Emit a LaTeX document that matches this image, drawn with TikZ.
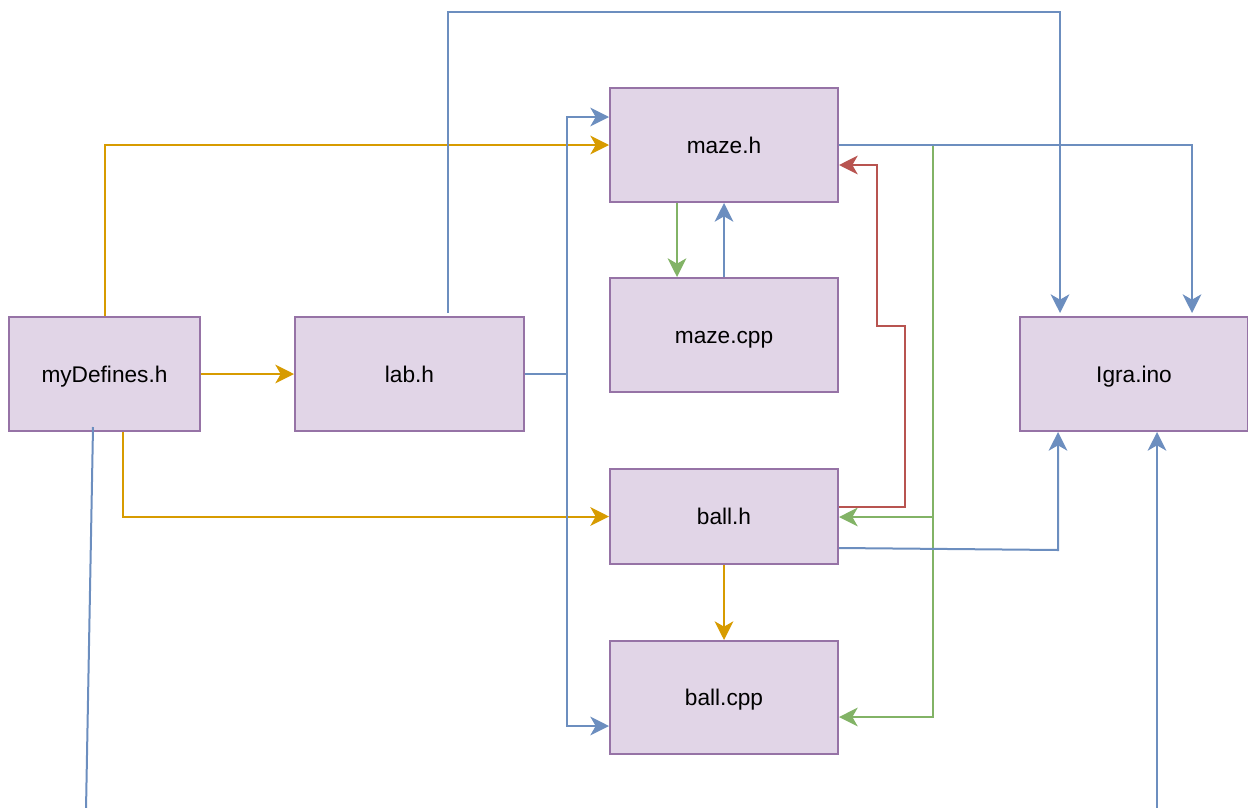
\documentclass[tikz,border=0pt]{standalone}
\usepackage{fontspec}
\setmainfont{Liberation Sans}
\usetikzlibrary{arrows.meta}
\definecolor{boxfill}{HTML}{E1D5E7}
\definecolor{boxdraw}{HTML}{9673A6}
\definecolor{cor}{HTML}{D79B00}
\definecolor{cbl}{HTML}{6C8EBF}
\definecolor{cgr}{HTML}{82B366}
\definecolor{cre}{HTML}{B85450}
\begin{document}
\begin{tikzpicture}[x=0.75pt,y=-0.75pt,
  filebox/.style={draw=boxdraw,fill=boxfill,line width=1.5pt,minimum width=228*0.75pt,minimum height=114*0.75pt,inner sep=0pt,text height=12.3pt,text depth=0pt,font=\fontsize{17}{20}\selectfont},
  conn/.style={line width=1.5pt,-{Stealth[length=14pt,width=14pt,inset=4pt]}},
  plain/.style={line width=1.5pt}]
\useasboundingbox (0,0) rectangle (1248,807);
\begin{scope}
\clip (0,0) rectangle (1248,807);
\node[filebox] (mazeh) at (724,145) {maze.h};
\node[filebox] (mazecpp) at (724,335) {maze.cpp};
\node[filebox,minimum width=191*0.75pt] (mydef) at (104.5,374) {myDefines.h};
\node[filebox,minimum width=229*0.75pt] (lab) at (409.5,374) {lab.h};
\node[filebox] (igra) at (1134,374) {Igra.ino};
\node[filebox,minimum height=95*0.75pt] (ballh) at (724,516.5) {ball.h};
\node[filebox,minimum height=113*0.75pt] (ballcpp) at (724,697.5) {ball.cpp};

\coordinate (offL) at (86,810);
\coordinate (offR) at (1157,810);

% green
\draw[conn,cgr] (mazeh.south -| 677,0) -- (mazecpp.north -| 677,0);
\draw[conn,cgr] (mazeh.east) -| (933,517) -- (ballh.east |- 0,517);
\draw[conn,cgr] (933,517) |- (ballcpp.east |- 0,717);

% orange
\draw[conn,cor] (mydef.north -| 105,0) |- (mazeh.west);
\draw[conn,cor] (mydef.east) -- (lab.west);
\draw[conn,cor] (mydef.south -| 123,0) |- (ballh.west);
\draw[conn,cor] (ballh.south) -- (ballcpp.north);

% blue
\draw[conn,cbl] (lab.east) -| (567,117) -- (mazeh.west |- 0,117);
\draw[conn,cbl] (lab.east) -| (567,726) -- (ballcpp.west |- 0,726);
\draw[conn,cbl] (448,313) |- (1060,12) -- (1060,313);
\draw[conn,cbl] (mazecpp.north) -- (mazeh.south);
\draw[conn,cbl] (mazeh.east) -| (1192,313);
\draw[conn,cbl] (ballh.east |- 0,548) -- (1058,550) -- (igra.south -| 1058,0);
\draw[plain,cbl] (93,427) -- (offL);
\draw[conn,cbl] (offR) -- (igra.south -| 1157,0);

% red
\draw[conn,cre] (ballh.east |- 0,507) -| (905,326) -| (877,165) -- (mazeh.east |- 0,165);
\end{scope}
\end{tikzpicture}
\end{document}
